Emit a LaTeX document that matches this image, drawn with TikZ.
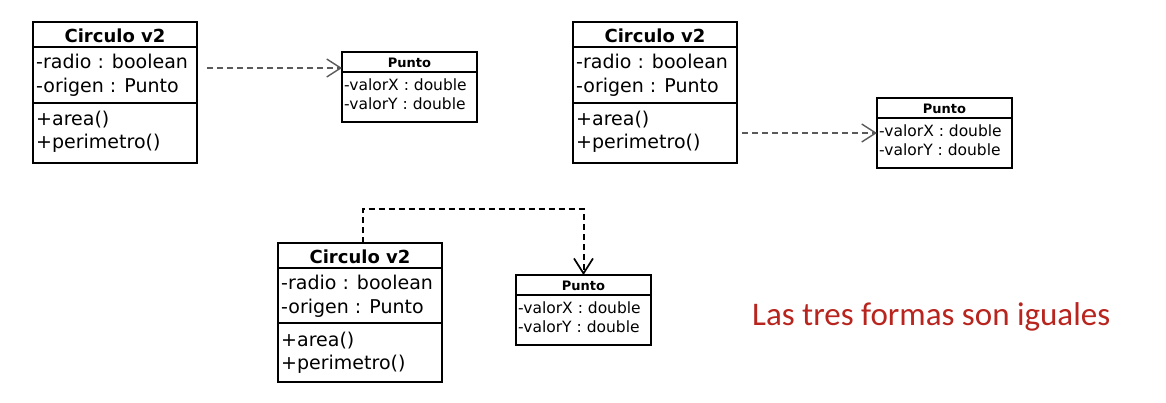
\documentclass[tikz,border=0pt]{standalone}
\usepackage{fontspec}
\setmainfont{DejaVu Sans}
\newfontfamily\notefont{Carlito}
\usetikzlibrary{arrows.meta,calc}
\definecolor{notered}{RGB}{184,36,30}
\definecolor{depgray}{RGB}{90,90,90}
\tikzset{
  umlbox/.style={draw, line width=1.3pt, anchor=north west, inner sep=0pt, outer sep=0pt},
  umlline/.style={line width=1.3pt},
  ctitle/.style={anchor=base, inner sep=0pt, font=\bfseries\fontsize{18}{20}\selectfont},
  cattr/.style={anchor=base west, inner sep=0pt, font=\fontsize{19}{22}\selectfont},
  ptitle/.style={anchor=base, inner sep=0pt, font=\bfseries\fontsize{13}{15}\selectfont},
  pattr/.style={anchor=base west, inner sep=0pt, font=\fontsize{15.5}{18}\selectfont},
  depthin/.style={draw=depgray, line width=1.3pt, dash pattern=on 6pt off 4pt,
     -{Straight Barb[length=14pt 0,width=18pt 0,line width=1.4pt]}},
  depthick/.style={draw=black, line width=2pt, dash pattern=on 6pt off 4pt,
     -{Straight Barb[length=15pt 0,width=19pt 0,line width=1.7pt]}},
}
\newcommand{\circulobox}[5]{% name, x, y, h, sep2 offset
  \node[umlbox, minimum width=164pt, minimum height=#4pt] (#1) at (#2,#3) {};
  \draw[umlline] ([yshift=-25pt]#1.north west) -- ([yshift=-25pt]#1.north east);
  \draw[umlline] ([yshift=-#5pt]#1.north west) -- ([yshift=-#5pt]#1.north east);
  \node[ctitle] (#1-t) at ([yshift=-20pt]#1.north) {Circulo v2};
  \node[cattr] (#1-a1) at ([xshift=3pt,yshift=-46pt]#1.north west) {-radio : boolean};
  \node[cattr] (#1-a2) at ([xshift=3pt,yshift=-70pt]#1.north west) {-origen : Punto};
  \node[cattr] (#1-m1) at ([xshift=3pt,yshift=-103pt]#1.north west) {+area()};
  \node[cattr] (#1-m2) at ([xshift=3pt,yshift=-126pt]#1.north west) {+perimetro()};
}
\newcommand{\puntobox}[3]{% name, x, y
  \node[umlbox, minimum width=135pt, minimum height=70pt] (#1) at (#2,#3) {};
  \draw[umlline] ([yshift=-20pt]#1.north west) -- ([yshift=-20pt]#1.north east);
  \node[ptitle] (#1-t) at ([yshift=-15pt]#1.north) {Punto};
  \node[pattr] (#1-a1) at ([xshift=2pt,yshift=-38pt]#1.north west) {-valorX : double};
  \node[pattr] (#1-a2) at ([xshift=2pt,yshift=-57pt]#1.north west) {-valorY : double};
}
\begin{document}
\begin{tikzpicture}[x=1pt,y=-1pt]
\useasboundingbox (0,0) rectangle (1166,402);
% first pair
\circulobox{c1}{33}{22}{141}{81}
\puntobox{p1}{342}{52}
\coordinate (s1) at ([xshift=10pt,yshift=-46pt]c1.north east);
\draw[depthin] (s1) -- (s1 -| p1.west);
% second pair
\circulobox{c2}{573}{22}{141}{81}
\puntobox{p2}{877}{98}
\coordinate (s2) at ([xshift=5pt,yshift=-111pt]c2.north east);
\draw[depthin] (s2) -- (s2 -| p2.west);
% third pair
\circulobox{c3}{278}{243}{139}{80}
\puntobox{p3}{516}{275}
\draw[depthick] ([xshift=2.5pt]c3.north) |- ([yshift=66pt]p3.north) -- (p3.north);
% note
\node[anchor=base west, inner sep=0pt, text=notered, font=\notefont\fontsize{33}{38}\selectfont] (note) at (752,325) {Las tres formas son iguales};
\end{tikzpicture}
\end{document}
